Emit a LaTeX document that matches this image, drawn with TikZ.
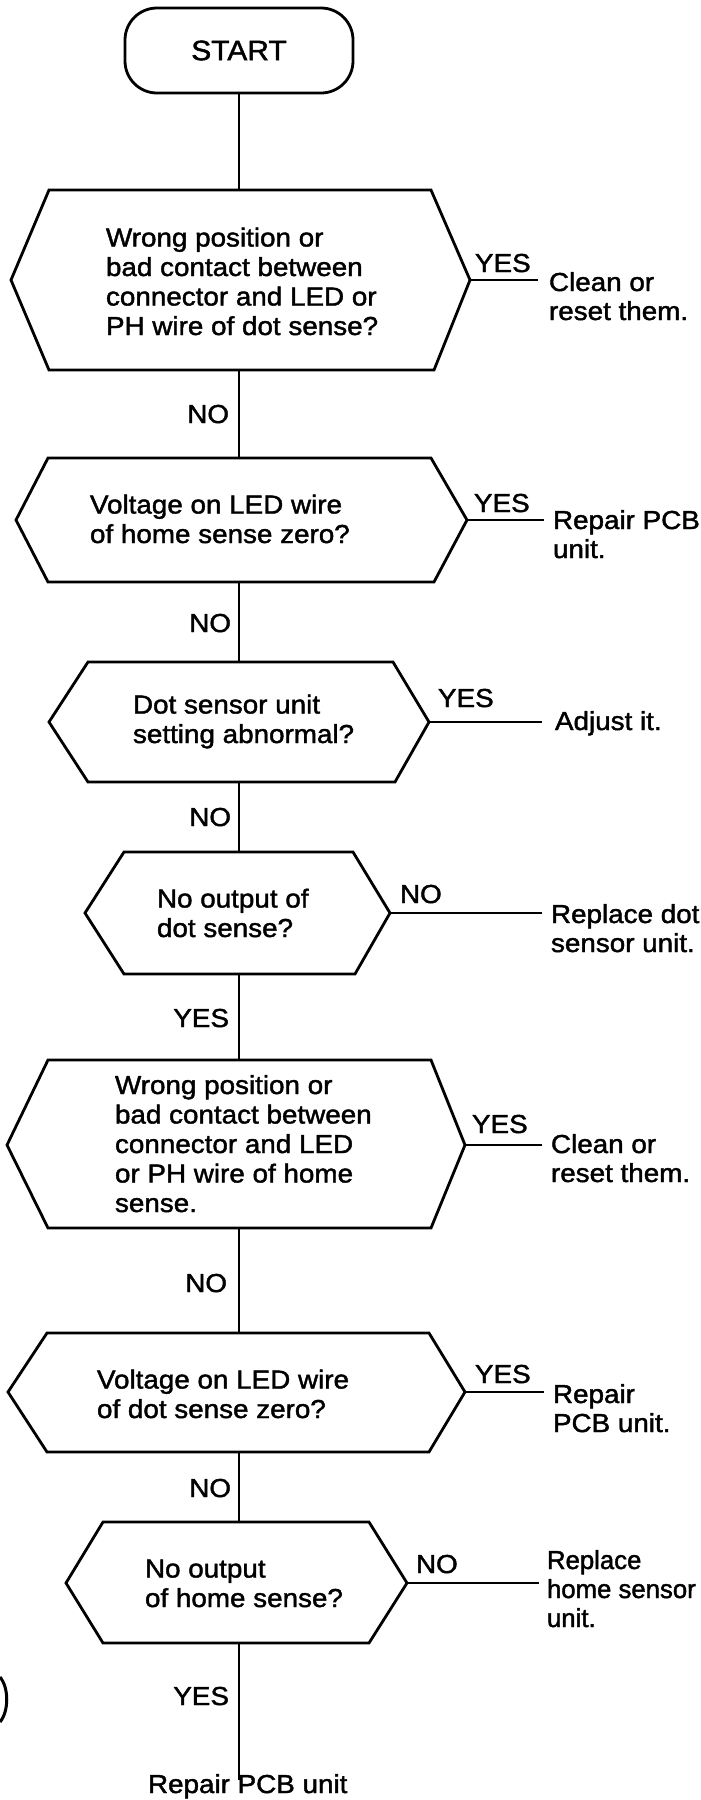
\documentclass[tikz,border=0pt]{standalone}
\usepackage{fontspec}
\setmainfont[FakeStretch=1.07, FakeBold=1.6]{Liberation Sans}
\newfontfamily\narrowfont[FakeStretch=0.99, FakeBold=1.6]{Liberation Sans}
\newcommand{\hexshape}[9]{%
  % #1 name, #2 T, #3 B, #4 M, #5 L, #6 TL, #7 TR, #8 R, #9 BR  (BL = TL)
  \draw[hexline] (#6,#2) -- (#7,#2) -- (#8,#4) -- (#9,#3) -- (#6,#3) -- (#5,#4) -- cycle;
  \coordinate (#1-t) at (239,#2);
  \coordinate (#1-b) at (239,#3);
  \coordinate (#1-r) at (#8,#4);
}
\begin{document}
\begin{tikzpicture}[x=1pt,y=-1pt,
  hexline/.style={line width=2.8pt, line join=miter},
  conn/.style={line width=2pt},
  txt/.style={inner sep=0pt, outer sep=0pt, align=left, anchor=base west,
    font=\fontsize{26}{29.5}\selectfont},
  lbl/.style={inner sep=0pt, outer sep=0pt, font=\fontsize{26}{29.5}\selectfont},
  res/.style={inner sep=0pt, outer sep=0pt, align=left, anchor=base west,
    font=\fontsize{26}{29}\selectfont},
  startbox/.style={draw, line width=2.8pt, rounded corners=32pt,
    minimum width=228pt, minimum height=85pt, inner sep=0pt,
    font=\fontsize{28}{29.5}\selectfont}]
\useasboundingbox (0,0) rectangle (701,1800);
\fill[white] (0,0) rectangle (701,1800);

% START
\node[startbox] (start) at (239,50.5) {START};

% hexagons
\hexshape{h1}{190}{370}{280}{11}{49}{431}{470}{434}
\hexshape{h2}{458}{582}{520}{16}{48}{431}{467}{434}
\hexshape{h3}{662}{782}{722}{49}{88}{393}{429}{395}
\hexshape{h4}{852}{974}{913}{85}{124}{353}{390}{355}
\hexshape{h5}{1060}{1228}{1145}{7}{48}{431}{465}{431}
\hexshape{h6}{1333}{1452}{1392}{8}{47}{429}{465}{429}
\hexshape{h7}{1522}{1643}{1583}{66}{103}{369}{407}{369}

% question texts (anchored at the baseline of their last line)
\node[txt] (q1) at (106,335) {Wrong position or\\bad contact between\\connector and LED or\\PH wire of dot sense?};
\node[txt] (q2) at (90,543) {Voltage on LED wire\\of home sense zero?};
\node[txt] (q3) at (133,743) {Dot sensor unit\\setting abnormal?};
\node[txt] (q4) at (157,937) {No output of\\dot sense?};
\node[txt] (q5) at (115,1212) {Wrong position or\\bad contact between\\connector and LED\\or PH wire of home\\sense.};
\node[txt] (q6) at (97,1418) {Voltage on LED wire\\of dot sense zero?};
\node[txt] (q7) at (145,1607) {No output\\of home sense?};

% main flow
\draw[conn] (start.south) -- (h1-t);
\draw[conn] (h1-b) -- (h2-t);
\draw[conn] (h2-b) -- (h3-t);
\draw[conn] (h3-b) -- (h4-t);
\draw[conn] (h4-b) -- (h5-t);
\draw[conn] (h5-b) -- (h6-t);
\draw[conn] (h6-b) -- (h7-t);
\coordinate (endpt) at (239,1780);
\draw[conn] (h7-b) -- (endpt);

% main flow labels
\node[lbl, anchor=base east] (m1) at (229,423) {NO};
\node[lbl, anchor=base east] (m2) at (231,632) {NO};
\node[lbl, anchor=base east] (m3) at (231,826) {NO};
\node[lbl, anchor=base east] (m4) at (229,1027) {YES};
\node[lbl, anchor=base east] (m5) at (227,1292) {NO};
\node[lbl, anchor=base east] (m6) at (231,1497) {NO};
\node[lbl, anchor=base east] (m7) at (229,1705) {YES};

% side branches
\coordinate (e1) at (538,280);
\coordinate (e2) at (544,520);
\coordinate (e3) at (542,722);
\coordinate (e4) at (542,913);
\coordinate (e5) at (542,1145);
\coordinate (e6) at (544,1392);
\coordinate (e7) at (539,1583);
\draw[conn] (h1-r) -- (e1);
\draw[conn] (h2-r) -- (e2);
\draw[conn] (h3-r) -- (e3);
\draw[conn] (h4-r) -- (e4);
\draw[conn] (h5-r) -- (e5);
\draw[conn] (h6-r) -- (e6);
\draw[conn] (h7-r) -- (e7);

\node[lbl, anchor=base west] (s1) at (475,272) {YES};
\node[lbl, anchor=base west] (s2) at (474,512) {YES};
\node[lbl, anchor=base west] (s3) at (438,707) {YES};
\node[lbl, anchor=base west] (s4) at (400,903) {NO};
\node[lbl, anchor=base west] (s5) at (472,1133) {YES};
\node[lbl, anchor=base west] (s6) at (475,1383) {YES};
\node[lbl, anchor=base west] (s7) at (416,1573) {NO};

% results (anchored at the baseline of their last line)
\node[res] (r1) at (549,320) {Clean or\\reset them.};
\node[res] (r2) at (553,558) {Repair PCB\\unit.};
\node[res] (r3) at (555,730) {Adjust it.};
\node[res] (r4) at (551,952) {Replace dot\\sensor unit.};
\node[res] (r5) at (551,1182) {Clean or\\reset them.};
\node[res] (r6) at (553,1432) {Repair\\PCB unit.};
\node[res, font=\narrowfont\fontsize{26}{29}\selectfont] (r7) at (547,1627) {Replace\\home sensor\\unit.};
\node[res] (r8) at (148,1793) {Repair PCB unit};

% scan artefact at left edge
\draw[line width=3pt] (0,1677) .. controls (9,1688) and (9,1711) .. (0,1722);
\end{tikzpicture}
\end{document}
